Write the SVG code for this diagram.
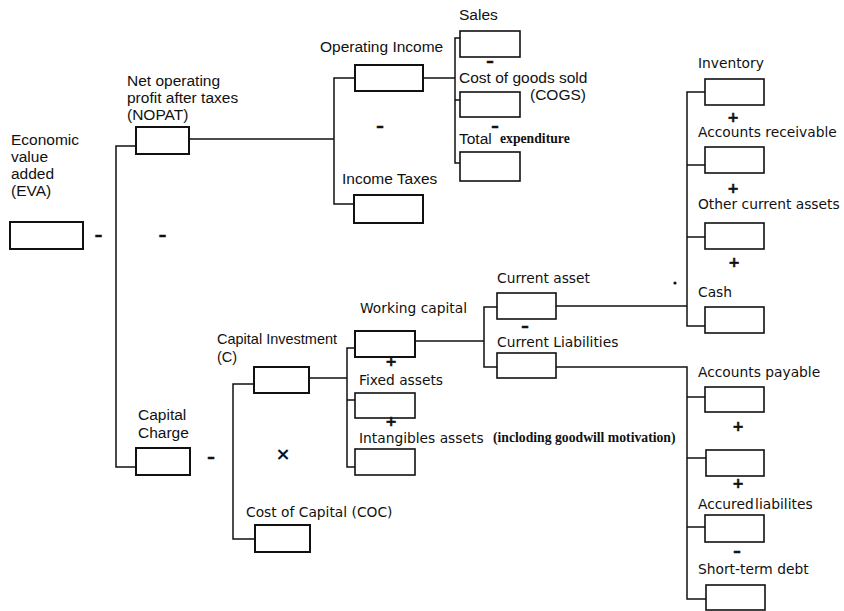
<svg xmlns="http://www.w3.org/2000/svg" width="844" height="611" viewBox="0 0 844 611">
  <defs>
    <style>
      .box { fill: #fff; stroke: #111; stroke-width: 2; }
      .box2 { fill: #fff; stroke: #111; stroke-width: 1.6; }
      .wire { fill: none; stroke: #111; stroke-width: 1.5; }
      .lbl { font-family: "Liberation Sans", Arial, sans-serif; font-size: 15.5px; fill: #111; }
      .lbl2 { font-family: "DejaVu Sans", "Liberation Sans", sans-serif; font-size: 13.8px; fill: #111; }
      .note { font-family: "Liberation Serif", "Times New Roman", serif; font-weight: bold; font-size: 13.7px; fill: #111; }
      .op { font-family: "DejaVu Sans", sans-serif; font-weight: bold; fill: #111; text-anchor: middle; dominant-baseline: central; }
      .minus { font-size: 15px; stroke: #111; stroke-width: 0.6; }
      .plus { font-size: 14px; stroke: #111; stroke-width: 0.5; }
      .times { font-size: 18px; }
    </style>
  </defs>
  <rect width="844" height="611" fill="#fff"/>

  <!-- connectors -->
  <g id="connectors">
    <path class="wire" d="M136,146 H116 V467 H136"/>
    <path class="wire" d="M189,139 H334"/>
    <path class="wire" d="M355,78 H334 V204 H354"/>
    <path class="wire" d="M423,78 H455"/>
    <path class="wire" d="M460,38 H455 V163 H460 M455,100 H460"/>
    <path class="wire" d="M254,384 H233 V539 H255"/>
    <path class="wire" d="M309,378 H347"/>
    <path class="wire" d="M355,348 H347 V467 H355 M347,400 H355"/>
    <path class="wire" d="M415,341 H484"/>
    <path class="wire" d="M497,307 H484 V367 H497"/>
    <path class="wire" d="M556,306 H687"/>
    <path class="wire" d="M705,92 H687 V326 H705 M687,165 H705 M687,237 H705"/>
    <path class="wire" d="M556,367 H687 V599 H706 M687,397 H705 M687,458 H706 M687,527 H705"/>
  </g>

  <!-- Economic value added -->
  <g id="eva">
    <text class="lbl" x="11" y="145">Economic</text>
    <text class="lbl" x="11" y="162">value</text>
    <text class="lbl" x="11" y="179">added</text>
    <text class="lbl" x="11" y="196">(EVA)</text>
    <rect class="box" x="10" y="222" width="73" height="27"/>
  </g>

  <g id="nopat">
    <text class="lbl" x="127" y="86">Net operating</text>
    <text class="lbl" x="127" y="103">profit after taxes</text>
    <text class="lbl" x="127" y="120">(NOPAT)</text>
    <rect class="box" x="136" y="127" width="53" height="27"/>
  </g>

  <g id="operating-income">
    <text class="lbl" x="320" y="52">Operating Income</text>
    <rect class="box" x="355" y="65" width="68" height="26"/>
  </g>

  <g id="income-taxes">
    <text class="lbl" x="342" y="184">Income Taxes</text>
    <rect class="box" x="354" y="195" width="69" height="28"/>
  </g>

  <g id="sales">
    <text class="lbl" x="459" y="20">Sales</text>
    <rect class="box2" x="460" y="31" width="60" height="26"/>
  </g>

  <g id="cogs">
    <text class="lbl" x="459" y="83">Cost of goods sold</text>
    <text class="lbl" x="530" y="100">(COGS)</text>
    <rect class="box2" x="460" y="92" width="60" height="25"/>
  </g>

  <g id="total-expenditure">
    <text class="lbl" x="459" y="144">Total</text>
    <text class="note" x="500" y="143">expenditure</text>
    <rect class="box2" x="460" y="152" width="60" height="29"/>
  </g>

  <g id="inventory">
    <text class="lbl2" x="698" y="68">Inventory</text>
    <rect class="box2" x="705" y="79" width="59" height="26"/>
  </g>

  <g id="accounts-receivable">
    <text class="lbl2" x="698" y="137">Accounts receivable</text>
    <rect class="box2" x="705" y="147" width="59" height="26"/>
  </g>

  <g id="other-current-assets">
    <text class="lbl2" x="698" y="209">Other current assets</text>
    <rect class="box2" x="705" y="223" width="59" height="26"/>
  </g>

  <g id="cash">
    <text class="lbl2" x="698" y="297">Cash</text>
    <rect class="box2" x="705" y="307" width="59" height="26"/>
  </g>

  <g id="capital-charge">
    <text class="lbl" x="138" y="420">Capital</text>
    <text class="lbl" x="138" y="438">Charge</text>
    <rect class="box" x="136" y="448" width="54" height="27"/>
  </g>

  <g id="capital-investment">
    <text class="lbl" x="217" y="344" style="font-size:14.5px">Capital Investment</text>
    <text class="lbl" x="217" y="362" style="font-size:14.5px">(C)</text>
    <rect class="box" x="254" y="367" width="55" height="26"/>
  </g>

  <g id="cost-of-capital">
    <text class="lbl2" x="246" y="517">Cost of Capital (COC)</text>
    <rect class="box" x="255" y="525" width="55" height="27"/>
  </g>

  <g id="working-capital">
    <text class="lbl2" x="360" y="313">Working capital</text>
    <rect class="box" x="355" y="331" width="60" height="26"/>
  </g>

  <g id="fixed-assets">
    <text class="lbl2" x="359" y="385">Fixed assets</text>
    <rect class="box2" x="355" y="393" width="60" height="25"/>
  </g>

  <g id="intangibles">
    <text class="lbl2" x="359" y="443">Intangibles assets</text>
    <text class="note" x="493" y="442">(incloding goodwill motivation)</text>
    <rect class="box2" x="355" y="449" width="60" height="26"/>
  </g>

  <g id="current-asset">
    <text class="lbl2" x="497" y="283">Current asset</text>
    <rect class="box2" x="497" y="293" width="59" height="26"/>
  </g>

  <g id="current-liabilities">
    <text class="lbl2" x="497" y="347">Current Liabilities</text>
    <rect class="box2" x="497" y="353" width="59" height="25"/>
  </g>

  <g id="accounts-payable">
    <text class="lbl2" x="698" y="377">Accounts payable</text>
    <rect class="box2" x="705" y="387" width="59" height="25"/>
  </g>

  <g id="payable-item">
    <rect class="box2" x="706" y="450" width="58" height="26"/>
  </g>

  <g id="accrued-liabilities">
    <text class="lbl2" x="698" y="509" style="word-spacing:-3px">Accured liabilites</text>
    <rect class="box2" x="705" y="515" width="59" height="27"/>
  </g>

  <g id="short-term-debt">
    <text class="lbl2" x="698" y="574">Short-term debt</text>
    <rect class="box2" x="706" y="585" width="59" height="25"/>
  </g>

  <!-- operators -->
  <g id="operators">
    <text class="op minus" x="98.5" y="235">–</text>
    <text class="op minus" x="162.5" y="235">–</text>
    <text class="op minus" x="380" y="126">–</text>
    <text class="op minus" x="490" y="61">–</text>
    <text class="op minus" x="495" y="126">–</text>
    <text class="op minus" x="211" y="457">–</text>
    <text class="op minus" x="525" y="326">–</text>
    <text class="op minus" x="737" y="551">–</text>
    <text class="op plus" x="733" y="117">+</text>
    <text class="op plus" x="733" y="188">+</text>
    <text class="op plus" x="734" y="262">+</text>
    <text class="op plus" x="391" y="361">+</text>
    <text class="op plus" x="391" y="421">+</text>
    <text class="op plus" x="738" y="426">+</text>
    <text class="op plus" x="738" y="483">+</text>
    <text class="op times" x="283" y="453">×</text>
  </g>

  <circle cx="675" cy="283" r="1.6" fill="#111"/>
</svg>
